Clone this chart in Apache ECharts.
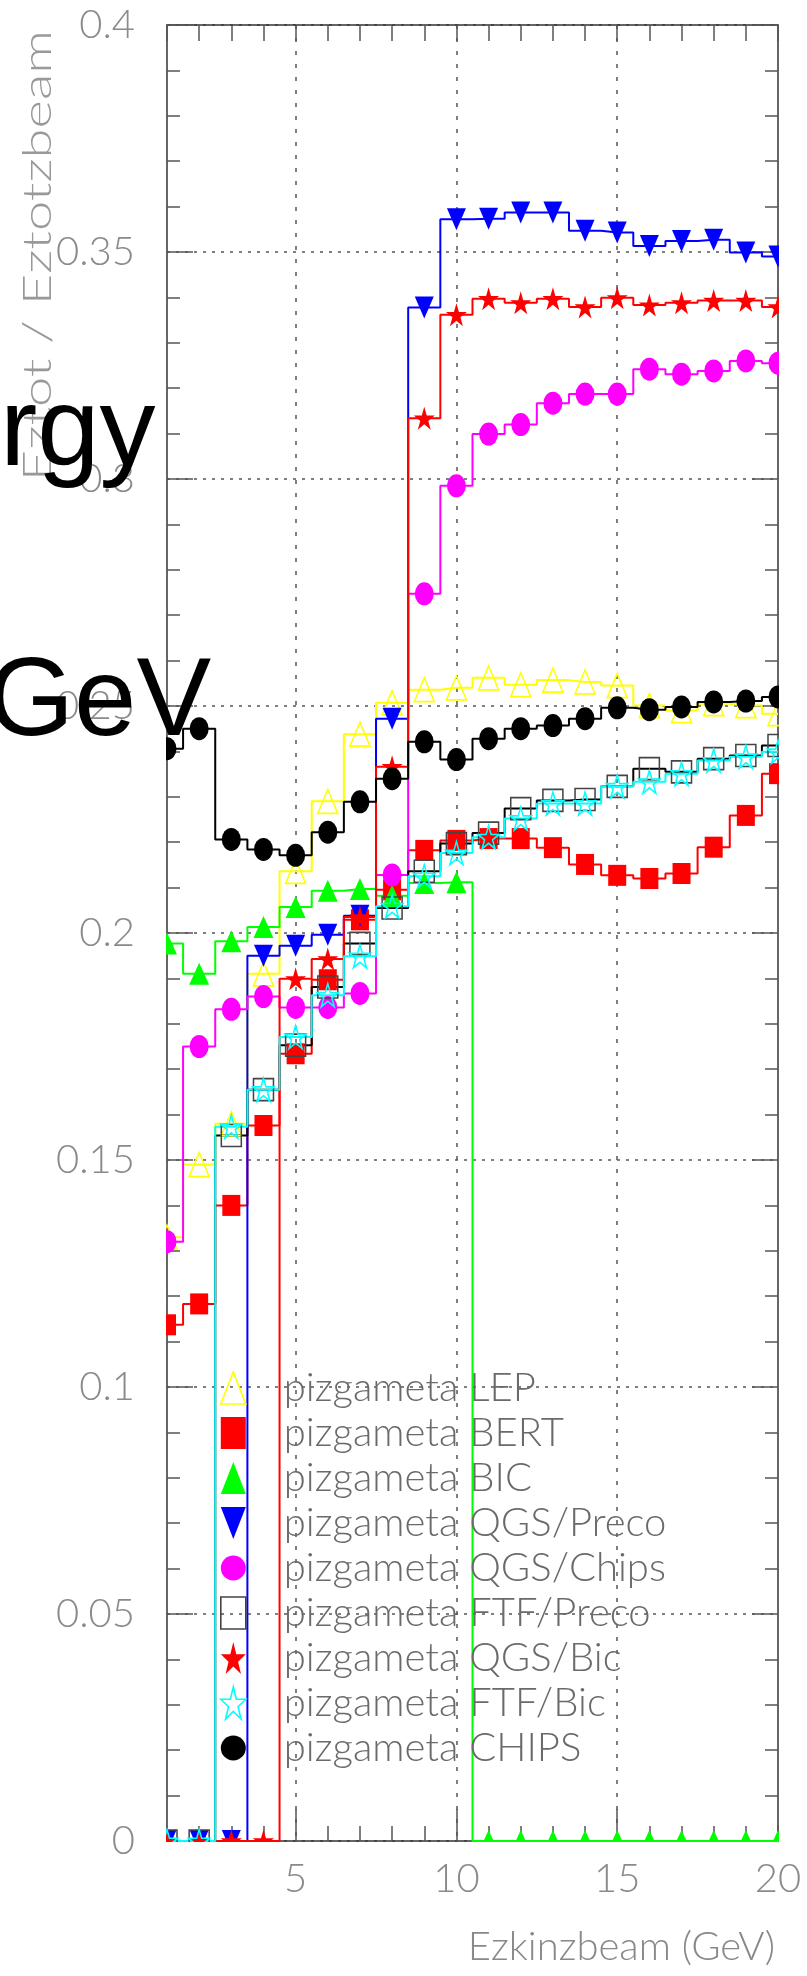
<!DOCTYPE html>
<html>
<head>
<meta charset="utf-8">
<script src="https://cdn.jsdelivr.net/npm/echarts@6/dist/echarts.min.js"></script>
<style>
html,body{margin:0;padding:0;background:#fff;}
#chart{width:807px;height:1976px;}
</style>
</head>
<body>
<div id="chart"></div>
<script>
// ---------- data ----------
const energies = [1,2,3,4,5,6,7,8,9,10,11,12,13,14,15,16,17,18,19,20];
const xMajorTicks = [5,10,15,20];

const lep      = [0.133,0.149,0.158,0.191,0.2136,0.229,0.2438,0.2507,0.2536,0.254,0.2562,0.2547,0.2557,0.2553,0.2545,0.2501,0.249,0.2505,0.2501,0.2483];
const bert     = [0.1137,0.1183,0.140,0.1576,0.1734,0.1897,0.2029,0.2095,0.2182,0.2204,0.2208,0.2208,0.2188,0.2151,0.2127,0.212,0.2131,0.2189,0.2259,0.2351];
const bic      = [0.1977,0.191,0.1982,0.2013,0.2057,0.2093,0.2097,0.2082,0.211,0.2112,0,0,0,0,0,0,0,0,0,0];
const qgsPreco = [0,0,0,0.195,0.1972,0.1996,0.2038,0.2472,0.3378,0.3572,0.3573,0.3587,0.3587,0.3547,0.3543,0.3513,0.3524,0.3527,0.3499,0.349];
const qgsChips = [0.132,0.175,0.1832,0.186,0.1836,0.1836,0.1867,0.2128,0.2747,0.2985,0.3099,0.312,0.3167,0.3187,0.3187,0.3242,0.3231,0.3238,0.326,0.3255];
const ftfPreco = [0,0,0.1554,0.1655,0.1753,0.1881,0.1977,0.2055,0.2136,0.2197,0.222,0.2274,0.2292,0.2294,0.2323,0.2362,0.2355,0.2384,0.2391,0.2413];
const qgsBic   = [0,0,0,0,0.1899,0.1943,0.2035,0.2366,0.3134,0.3362,0.3397,0.3388,0.3397,0.3379,0.3399,0.3383,0.3388,0.3393,0.3393,0.3379];
const ftfBic   = [0,0,0.1573,0.1655,0.1771,0.1863,0.1949,0.2059,0.2125,0.2176,0.2211,0.2252,0.2285,0.2285,0.2323,0.2333,0.2351,0.238,0.2388,0.2399];
const chips    = [0.2406,0.245,0.2206,0.2184,0.2171,0.2222,0.2289,0.234,0.2421,0.2382,0.2428,0.245,0.2457,0.2472,0.2496,0.2492,0.2498,0.2509,0.2511,0.252];

const seriesNames = ['pizgameta LEP','pizgameta BERT','pizgameta BIC','pizgameta QGS/Preco','pizgameta QGS/Chips','pizgameta FTF/Preco','pizgameta QGS/Bic','pizgameta FTF/Bic','pizgameta CHIPS'];
const seriesValues = [lep, bert, bic, qgsPreco, qgsChips, ftfPreco, qgsBic, ftfBic, chips];

// ---------- styles ----------
const STAR = 'path://M50,0 L61.8,35.4 L100,35.4 L69.1,57.3 L80.9,92.7 L50,70.8 L19.1,92.7 L30.9,57.3 L0,35.4 L38.2,35.4 Z';
const TRI_UP = 'path://M50,0 L100,100 L0,100 Z';
const TRI_DN = 'path://M0,0 L100,0 L50,100 Z';
const SQUARE = 'path://M0,0 L100,0 L100,100 L0,100 Z';
const styles = [
  {line:'#ffff00', mark:'#ffff00', symbol:TRI_UP, size:[20,24], filled:false},
  {line:'#ff0000', mark:'#ff0000', symbol:SQUARE, size:[18,21], filled:true},
  {line:'#00ff00', mark:'#00ff00', symbol:TRI_UP, size:[20,22], filled:true},
  {line:'#0000ff', mark:'#0000ff', symbol:TRI_DN, size:[19,22], filled:true},
  {line:'#ff00ff', mark:'#ff00ff', symbol:'circle', size:[19,23], filled:true},
  {line:'#000000', mark:'#444444', symbol:SQUARE, size:[20,22], filled:false},
  {line:'#ff0000', mark:'#ff0000', symbol:STAR, size:[21,23], filled:true},
  {line:'#00ffff', mark:'#00ffff', symbol:STAR, size:[21,23], filled:false},
  {line:'#000000', mark:'#000000', symbol:'circle', size:[19,23], filled:true}
];

const series = seriesNames.map((name, k) => {
  const st = styles[k];
  return {
    type: 'line',
    name: name,
    step: 'middle',
    xAxisIndex: 0,
    yAxisIndex: 0,
    z: 2,
    data: energies.map((e, i) => [e, seriesValues[k][i]]),
    symbol: st.symbol,
    symbolSize: st.size,
    symbolKeepAspect: false,
    showSymbol: true,
    showAllSymbol: true,
    clip: true,
    lineStyle: {color: st.line, width: 2},
    itemStyle: {
      color: st.filled ? st.mark : 'rgba(0,0,0,0)',
      borderColor: st.mark,
      borderWidth: st.filled ? 0 : 1.6
    },
    emphasis: {disabled: true},
    animation: false
  };
});

const legendData = seriesNames.map((name, k) => {
  const st = styles[k];
  return {
    name: name,
    icon: st.symbol,
    itemStyle: {
      color: st.filled ? st.mark : 'rgba(0,0,0,0)',
      borderColor: st.mark,
      borderWidth: st.filled ? 0 : 1.6
    }
  };
});

const labelFont = {fontFamily: 'Lato', fontSize: 40, fontWeight: 300, color: '#8a8a8a'};
const frameLine = {show: true, onZero: false, lineStyle: {color: '#333', width: 1.5}};
const tickStyle = {color: '#555', width: 1.5};

// x axes: [0] labels (above masks), others frame, ticks, grid (below series)
const xAxes = [
  {type: 'value', position: 'bottom', min: 1, max: 20, interval: 1, z: 10,
   axisLine: {show: false}, axisTick: {show: false}, splitLine: {show: false},
   axisLabel: Object.assign({show: true, margin: 18,
     formatter: v => (xMajorTicks.indexOf(v) >= 0 ? String(v) : '')}, labelFont)},
  {type: 'value', position: 'bottom', min: 1, max: 20, interval: 1, z: 0,
   axisLine: frameLine, axisTick: {show: true, inside: true, length: 15, lineStyle: tickStyle},
   axisLabel: {show: false}, splitLine: {show: false}},
  {type: 'value', position: 'bottom', min: 1, max: 20, interval: 1, z: 0,
   axisLine: {show: false},
   axisTick: {show: true, inside: true, length: 32, customValues: xMajorTicks.slice(0, 3), lineStyle: tickStyle},
   axisLabel: {show: false},
   splitLine: {show: true, lineStyle: {type: [4, 9], color: '#555', width: 1.5}}},
  {type: 'value', position: 'top', min: 1, max: 20, interval: 1, z: 0,
   axisLine: frameLine, axisTick: {show: true, inside: true, length: 16, lineStyle: tickStyle},
   axisLabel: {show: false}, splitLine: {show: false}},
  {type: 'value', position: 'top', min: 1, max: 20, interval: 1, z: 0,
   axisLine: {show: false},
   axisTick: {show: true, inside: true, length: 34, customValues: xMajorTicks.slice(0, 3), lineStyle: tickStyle},
   axisLabel: {show: false}, splitLine: {show: false}}
];

const yAxes = [
  {type: 'value', position: 'left', min: 0, max: 0.4, interval: 0.05, z: 10,
   axisLine: {show: false}, axisTick: {show: false}, splitLine: {show: false},
   axisLabel: Object.assign({show: true, margin: 32}, labelFont)},
  {type: 'value', position: 'left', min: 0, max: 0.4, interval: 0.05, z: 0,
   axisLine: frameLine,
   axisTick: {show: true, inside: true, length: 26, lineStyle: tickStyle},
   minorTick: {show: true, splitNumber: 5, length: 13, lineStyle: tickStyle},
   axisLabel: {show: false},
   splitLine: {show: true, lineStyle: {type: [3, 6], color: '#555', width: 1.5}}},
  {type: 'value', position: 'right', min: 0, max: 0.4, interval: 0.05, z: 0,
   axisLine: frameLine,
   axisTick: {show: true, inside: true, length: 26, lineStyle: tickStyle},
   minorTick: {show: true, splitNumber: 5, length: 13, lineStyle: tickStyle},
   axisLabel: {show: false}, splitLine: {show: false}}
];

const textGraphics = [
  {type: 'text', x: 0, y: 434, z: 100,
   style: {text: 'rgy', font: '112px "Liberation Sans", Arial, sans-serif', fill: '#000',
           align: 'left', verticalAlign: 'middle', textAlign: 'left', textVerticalAlign: 'middle'}},
  {type: 'text', x: -13, y: 704, z: 100,
   style: {text: 'GeV', font: '112px "Liberation Sans", Arial, sans-serif', fill: '#000',
           align: 'left', verticalAlign: 'middle', textAlign: 'left', textVerticalAlign: 'middle'}},
  {type: 'text', x: 38, y: 30, rotation: Math.PI / 2, scaleX: 1.36, z: 50,
   style: {text: 'Eztot / Eztotzbeam', font: '300 40px Lato, sans-serif', fill: '#999',
           align: 'right', verticalAlign: 'middle', textAlign: 'right', textVerticalAlign: 'middle'}},
  {type: 'text', x: 775, y: 1947, z: 50,
   style: {text: 'Ezkinzbeam (GeV)', font: '300 40px Lato, sans-serif', fill: '#888',
           align: 'right', verticalAlign: 'middle', textAlign: 'right', textVerticalAlign: 'middle'}}
];

const option = {
  backgroundColor: '#ffffff',
  animation: false,
  grid: {left: 167, right: 29, top: 25, bottom: 135, containLabel: false},
  xAxis: xAxes,
  yAxis: yAxes,
  legend: {
    orient: 'vertical', left: 220, top: 1368, padding: 0, z: 6,
    itemWidth: 25, itemHeight: 32, itemGap: 5,
    symbolKeepAspect: false,
    selectedMode: false,
    textStyle: {fontFamily: 'Lato', fontSize: 40, fontWeight: 300, color: '#6a6a6a', padding: [0, 0, 0, 33]},
    data: legendData
  },
  graphic: textGraphics,
  series: series
};

const chart = echarts.init(document.getElementById('chart'), null, {renderer: 'canvas'});
chart.setOption(option);

// white masks outside the plot frame so markers sitting on the frame are cut, as in the original
const W = 807, H = 1976;
const tl = chart.convertToPixel({xAxisIndex: 0, yAxisIndex: 0}, [1, 0.4]);
const br = chart.convertToPixel({xAxisIndex: 0, yAxisIndex: 0}, [20, 0]);
const pad = 1;
const maskStyle = {fill: '#ffffff'};
const masks = [
  {type: 'rect', z: 5, silent: true, shape: {x: 0, y: 0, width: tl[0] - pad, height: H}, style: maskStyle},
  {type: 'rect', z: 5, silent: true, shape: {x: br[0] + pad, y: 0, width: W - br[0], height: H}, style: maskStyle},
  {type: 'rect', z: 5, silent: true, shape: {x: 0, y: 0, width: W, height: tl[1] - pad}, style: maskStyle},
  {type: 'rect', z: 5, silent: true, shape: {x: 0, y: br[1] + pad, width: W, height: H - br[1]}, style: maskStyle}
];
option.graphic = masks.concat(textGraphics);
chart.setOption(option, true);
</script>
</body>
</html>
